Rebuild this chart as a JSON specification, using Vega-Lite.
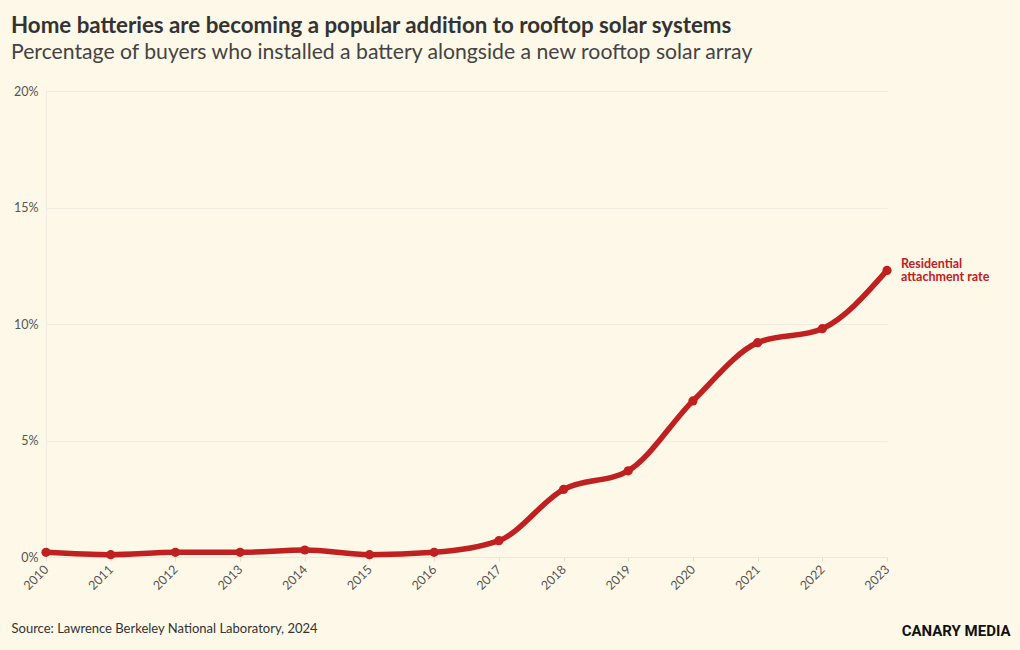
{
  "$schema": "https://vega.github.io/schema/vega-lite/v6.json",
  "autosize": "none",
  "width": 841,
  "height": 466,
  "padding": {"left": 46, "top": 91, "right": 133, "bottom": 93},
  "background": "#fdf8e7",
  "config": {
    "font": "Lato",
    "view": {"stroke": null},
    "axis": {"labelFont": "Lato", "titleFont": "Lato"}
  },
  "title": {
    "text": "Home batteries are becoming a popular addition to rooftop solar systems",
    "subtitle": "Percentage of buyers who installed a battery alongside a new rooftop solar array",
    "anchor": "start",
    "frame": "group",
    "dx": -35,
    "offset": 22,
    "fontSize": 22.3,
    "fontWeight": "bold",
    "color": "#333333",
    "subtitleFontSize": 21.2,
    "subtitleColor": "#444444",
    "subtitlePadding": 5,
    "font": "Lato",
    "subtitleFont": "Lato"
  },
  "data": {
    "values": [
      {"year": 2010, "rate": 0.002},
      {"year": 2011, "rate": 0.001},
      {"year": 2012, "rate": 0.002},
      {"year": 2013, "rate": 0.002},
      {"year": 2014, "rate": 0.003},
      {"year": 2015, "rate": 0.001},
      {"year": 2016, "rate": 0.002},
      {"year": 2017, "rate": 0.007},
      {"year": 2018, "rate": 0.029},
      {"year": 2019, "rate": 0.037},
      {"year": 2020, "rate": 0.067},
      {"year": 2021, "rate": 0.092},
      {"year": 2022, "rate": 0.098},
      {"year": 2023, "rate": 0.123}
    ]
  },
  "encoding": {
    "x": {
      "field": "year",
      "type": "quantitative",
      "scale": {"domain": [2010, 2023], "nice": false, "zero": false},
      "axis": {
        "values": [2010, 2011, 2012, 2013, 2014, 2015, 2016, 2017, 2018, 2019, 2020, 2021, 2022, 2023],
        "format": "d",
        "labelAngle": -45,
        "labelAlign": "right",
        "labelBaseline": "middle",
        "labelFontSize": 12.5,
        "labelColor": "#555555",
        "labelPadding": 6,
        "grid": false,
        "domain": true,
        "domainColor": "#ece8dc",
        "ticks": true,
        "tickColor": "#e3ded0",
        "tickSize": 4,
        "title": "Source: Lawrence Berkeley National Laboratory, 2024",
        "titleAnchor": "start",
        "titleAlign": "left",
        "titleBaseline": "alphabetic",
        "titleX": -35,
        "titleY": 75,
        "titleFontSize": 13,
        "titleFontWeight": "normal",
        "titleColor": "#333333"
      }
    },
    "y": {
      "field": "rate",
      "type": "quantitative",
      "scale": {"domain": [0, 0.2], "nice": false}
    }
  },
  "layer": [
    {
      "mark": {"type": "line", "interpolate": "monotone", "color": "#c0201f", "strokeWidth": 5.5, "strokeCap": "round"},
      "encoding": {
        "y": {
          "field": "rate",
          "type": "quantitative",
          "axis": {
            "values": [0, 0.05, 0.1, 0.15, 0.2],
            "format": ".0%",
            "labelFontSize": 12.5,
            "labelColor": "#555555",
            "labelPadding": 8,
            "grid": true,
            "gridColor": "#efebe0",
            "domain": true,
            "domainColor": "#efebe0",
            "ticks": false,
            "title": null
          }
        }
      }
    },
    {
      "mark": {"type": "point", "filled": true, "size": 85, "opacity": 1, "color": "#c0201f"},
      "encoding": {
        "y": {"field": "rate", "type": "quantitative", "axis": null}
      }
    },
    {
      "transform": [{"filter": "datum.year === 2023"}],
      "mark": {
        "type": "text",
        "align": "left",
        "baseline": "middle",
        "dx": 14,
        "dy": -6,
        "fontSize": 12.5,
        "fontWeight": "bold",
        "color": "#c0201f",
        "lineBreak": "\n",
        "lineHeight": 13
      },
      "encoding": {
        "text": {"value": "Residential\nattachment rate"},
        "y": {
          "field": "rate",
          "type": "quantitative",
          "axis": {
            "orient": "right",
            "labels": false,
            "ticks": false,
            "domain": false,
            "grid": false,
            "title": "CANARY MEDIA",
            "titleAngle": 0,
            "titleAlign": "right",
            "titleBaseline": "alphabetic",
            "titleX": 123,
            "titleY": 544,
            "titleFontSize": 15,
            "titleFontWeight": "bold",
            "titleColor": "#111111",
            "titleFont": "Roboto"
          }
        }
      }
    }
  ],
  "resolve": {"axis": {"y": "independent"}}
}
